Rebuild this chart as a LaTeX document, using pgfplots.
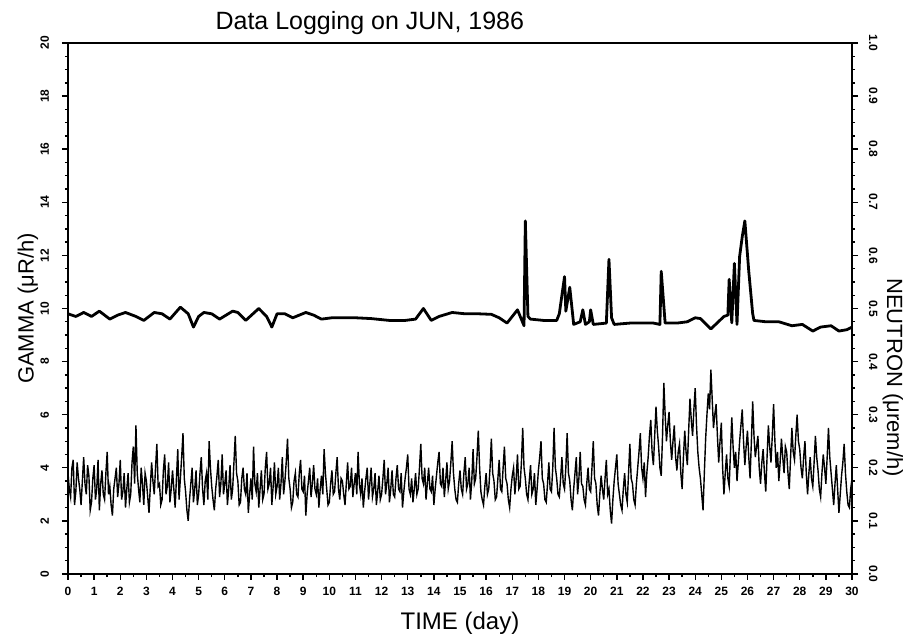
\documentclass[border=0pt]{standalone}
\usepackage{fontspec}
\setmainfont{Liberation Sans}
\usepackage{pgfplots}
\usepackage{pgfplotstable}
\pgfplotsset{compat=1.18}

% neutron dose rate, urem/h, one reading every 0.05 day
\pgfplotstableread{
t n
0.0 0.19
0.05 0.16
0.1 0.145
0.15 0.20
0.2 0.215
0.25 0.13
0.3 0.155
0.35 0.21
0.4 0.18
0.45 0.16
0.5 0.13
0.55 0.175
0.6 0.22
0.65 0.17
0.7 0.15
0.75 0.205
0.8 0.185
0.85 0.12
0.9 0.135
0.95 0.18
1.0 0.205
1.05 0.14
1.1 0.16
1.15 0.215
1.2 0.12
1.25 0.17
1.3 0.195
1.35 0.15
1.4 0.14
1.45 0.19
1.5 0.23
1.55 0.15
1.6 0.165
1.65 0.13
1.7 0.11
1.75 0.16
1.8 0.18
1.85 0.2
1.9 0.145
1.95 0.17
2.0 0.215
2.05 0.14
2.1 0.155
2.15 0.19
2.2 0.125
2.25 0.16
2.3 0.19
2.35 0.135
2.4 0.15
2.45 0.21
2.5 0.24
2.55 0.17
2.6 0.28
2.65 0.19
2.7 0.16
2.75 0.135
2.8 0.20
2.85 0.17
2.9 0.13
2.95 0.19
3.0 0.175
3.05 0.145
3.1 0.115
3.15 0.165
3.2 0.21
3.25 0.175
3.3 0.15
3.35 0.2
3.4 0.245
3.45 0.165
3.5 0.17
3.55 0.13
3.6 0.14
3.65 0.195
3.7 0.225
3.75 0.15
3.8 0.165
3.85 0.21
3.9 0.135
3.95 0.16
4.0 0.195
4.05 0.16
4.1 0.125
4.15 0.18
4.2 0.235
4.25 0.14
4.3 0.18
4.35 0.22
4.4 0.265
4.45 0.18
4.5 0.155
4.55 0.12
4.6 0.10
4.65 0.14
4.7 0.17
4.75 0.2
4.8 0.135
4.85 0.16
4.9 0.195
4.95 0.13
5.0 0.15
5.05 0.19
5.1 0.22
5.15 0.16
5.2 0.13
5.25 0.175
5.3 0.19
5.35 0.14
5.4 0.25
5.45 0.2
5.5 0.165
5.55 0.14
5.6 0.12
5.65 0.16
5.7 0.185
5.75 0.215
5.8 0.145
5.85 0.17
5.9 0.225
5.95 0.15
6.0 0.17
6.05 0.195
6.1 0.13
6.15 0.16
6.2 0.205
6.25 0.14
6.3 0.16
6.35 0.21
6.4 0.26
6.45 0.19
6.5 0.175
6.55 0.13
6.6 0.135
6.65 0.18
6.7 0.20
6.75 0.16
6.8 0.15
6.85 0.19
6.9 0.115
6.95 0.15
7.0 0.18
7.05 0.14
7.1 0.24
7.15 0.17
7.2 0.155
7.25 0.19
7.3 0.125
7.35 0.16
7.4 0.195
7.45 0.14
7.5 0.15
7.55 0.2
7.6 0.23
7.65 0.16
7.7 0.17
7.75 0.2
7.8 0.13
7.85 0.165
7.9 0.21
7.95 0.15
8.0 0.165
8.05 0.2
8.1 0.14
8.15 0.17
8.2 0.22
8.25 0.15
8.3 0.175
8.35 0.21
8.4 0.255
8.45 0.18
8.5 0.16
8.55 0.125
8.6 0.135
8.65 0.175
8.7 0.19
8.75 0.15
8.8 0.145
8.85 0.19
8.9 0.215
8.95 0.16
9.0 0.155
9.05 0.185
9.1 0.11
9.15 0.15
9.2 0.175
9.25 0.2
9.3 0.145
9.35 0.17
9.4 0.205
9.45 0.16
9.5 0.15
9.55 0.18
9.6 0.125
9.65 0.16
9.7 0.185
9.75 0.15
9.8 0.235
9.85 0.19
9.9 0.16
9.95 0.13
10.0 0.135
10.05 0.17
10.1 0.195
10.15 0.15
10.2 0.155
10.25 0.19
10.3 0.22
10.35 0.16
10.4 0.14
10.45 0.18
10.5 0.175
10.55 0.15
10.6 0.13
10.65 0.17
10.7 0.21
10.75 0.16
10.8 0.165
10.85 0.2
10.9 0.145
10.95 0.17
11.0 0.19
11.05 0.15
11.1 0.23
11.15 0.17
11.2 0.15
11.25 0.18
11.3 0.125
11.35 0.155
11.4 0.18
11.45 0.2
11.5 0.14
11.55 0.17
11.6 0.20
11.65 0.145
11.7 0.16
11.75 0.19
11.8 0.13
11.85 0.155
11.9 0.185
11.95 0.14
12.0 0.15
12.05 0.18
12.1 0.215
12.15 0.15
12.2 0.17
12.25 0.2
12.3 0.135
12.35 0.16
12.4 0.195
12.45 0.15
12.5 0.145
12.55 0.18
12.6 0.205
12.65 0.16
12.7 0.155
12.75 0.19
12.8 0.125
12.85 0.155
12.9 0.18
12.95 0.2
13.0 0.225
13.05 0.16
13.1 0.15
13.15 0.18
13.2 0.135
13.25 0.16
13.3 0.19
13.35 0.15
13.4 0.16
13.45 0.2
13.5 0.245
13.55 0.18
13.6 0.17
13.65 0.2
13.7 0.14
13.75 0.17
13.8 0.20
13.85 0.16
13.9 0.155
13.95 0.185
14.0 0.13
14.05 0.16
14.1 0.185
14.15 0.21
14.2 0.23
14.25 0.17
14.3 0.165
14.35 0.2
14.4 0.145
14.45 0.175
14.5 0.21
14.55 0.16
14.6 0.175
14.65 0.21
14.7 0.25
14.75 0.19
14.8 0.16
14.85 0.14
14.9 0.135
14.95 0.17
15.0 0.195
15.05 0.16
15.1 0.15
15.15 0.19
15.2 0.22
15.25 0.16
15.3 0.17
15.35 0.2
15.4 0.14
15.45 0.175
15.5 0.235
15.55 0.17
15.6 0.18
15.65 0.22
15.7 0.27
15.75 0.2
15.8 0.155
15.85 0.14
15.9 0.13
15.95 0.165
16.0 0.19
16.05 0.15
16.1 0.16
16.15 0.2
16.2 0.255
16.25 0.19
16.3 0.175
16.35 0.14
16.4 0.145
16.45 0.18
16.5 0.215
16.55 0.16
16.6 0.155
16.65 0.2
16.7 0.24
16.75 0.18
16.8 0.17
16.85 0.14
16.9 0.125
16.95 0.16
17.0 0.185
17.05 0.2
17.1 0.15
17.15 0.18
17.2 0.225
17.25 0.16
17.3 0.165
17.35 0.21
17.4 0.275
17.45 0.2
17.5 0.18
17.55 0.15
17.6 0.14
17.65 0.175
17.7 0.205
17.75 0.15
17.8 0.16
17.85 0.19
17.9 0.13
17.95 0.16
18.0 0.195
18.05 0.22
18.1 0.25
18.15 0.18
18.2 0.17
18.25 0.14
18.3 0.135
18.35 0.17
18.4 0.21
18.45 0.16
18.5 0.155
18.55 0.2
18.6 0.275
18.65 0.2
18.7 0.18
18.75 0.15
18.8 0.145
18.85 0.18
18.9 0.22
18.95 0.17
19.0 0.16
19.05 0.2
19.1 0.265
19.15 0.19
19.2 0.175
19.25 0.14
19.3 0.12
19.35 0.16
19.4 0.19
19.45 0.22
19.5 0.15
19.55 0.18
19.6 0.23
19.65 0.17
19.7 0.165
19.75 0.14
19.8 0.13
19.85 0.17
19.9 0.20
19.95 0.16
20.0 0.155
20.05 0.2
20.1 0.25
20.15 0.18
20.2 0.17
20.25 0.13
20.3 0.11
20.35 0.15
20.4 0.185
20.45 0.16
20.5 0.14
20.55 0.18
20.6 0.215
20.65 0.15
20.7 0.16
20.75 0.12
20.8 0.095
20.85 0.14
20.9 0.175
20.95 0.2
21.0 0.225
21.05 0.17
21.1 0.15
21.15 0.13
21.2 0.12
21.25 0.16
21.3 0.19
21.35 0.15
21.4 0.135
21.45 0.19
21.5 0.245
21.55 0.18
21.6 0.17
21.65 0.14
21.7 0.13
21.75 0.17
21.8 0.20
21.85 0.23
21.9 0.265
21.95 0.2
22.0 0.18
22.05 0.21
22.1 0.145
22.15 0.19
22.2 0.22
22.25 0.26
22.3 0.29
22.35 0.23
22.4 0.205
22.45 0.26
22.5 0.315
22.55 0.27
22.6 0.24
22.65 0.2
22.7 0.185
22.75 0.26
22.8 0.36
22.85 0.3
22.9 0.25
22.95 0.28
23.0 0.305
23.05 0.25
23.1 0.215
23.15 0.25
23.2 0.28
23.25 0.22
23.3 0.195
23.35 0.23
23.4 0.245
23.45 0.19
23.5 0.16
23.55 0.22
23.6 0.27
23.65 0.23
23.7 0.205
23.75 0.27
23.8 0.33
23.85 0.29
23.9 0.26
23.95 0.31
24.0 0.35
24.05 0.28
24.1 0.23
24.15 0.2
24.2 0.18
24.25 0.15
24.3 0.12
24.35 0.19
24.4 0.255
24.45 0.3
24.5 0.34
24.55 0.31
24.6 0.385
24.65 0.33
24.7 0.275
24.75 0.3
24.8 0.32
24.85 0.26
24.9 0.21
24.95 0.25
25.0 0.285
25.05 0.2
25.1 0.15
25.15 0.19
25.2 0.225
25.25 0.18
25.3 0.165
25.35 0.23
25.4 0.295
25.45 0.24
25.5 0.20
25.55 0.23
25.6 0.175
25.65 0.21
25.7 0.25
25.75 0.28
25.8 0.31
25.85 0.25
25.9 0.205
25.95 0.24
26.0 0.27
26.05 0.22
26.1 0.18
26.15 0.25
26.2 0.325
26.25 0.26
26.3 0.22
26.35 0.24
26.4 0.26
26.45 0.2
26.5 0.17
26.55 0.21
26.6 0.235
26.65 0.19
26.7 0.155
26.75 0.22
26.8 0.28
26.85 0.24
26.9 0.21
26.95 0.26
27.0 0.32
27.05 0.25
27.1 0.20
27.15 0.23
27.2 0.175
27.25 0.21
27.3 0.255
27.35 0.22
27.4 0.19
27.45 0.24
27.5 0.23
27.55 0.19
27.6 0.16
27.65 0.22
27.7 0.275
27.75 0.23
27.8 0.215
27.85 0.26
27.9 0.30
27.95 0.25
28.0 0.235
28.05 0.2
28.1 0.18
28.15 0.22
28.2 0.25
28.25 0.19
28.3 0.15
28.35 0.19
28.4 0.22
28.45 0.18
28.5 0.165
28.55 0.21
28.6 0.26
28.65 0.22
28.7 0.195
28.75 0.16
28.8 0.145
28.85 0.19
28.9 0.225
28.95 0.2
29.0 0.17
29.05 0.22
29.1 0.275
29.15 0.22
29.2 0.19
29.25 0.16
29.3 0.13
29.35 0.17
29.4 0.205
29.45 0.16
29.5 0.115
29.55 0.15
29.6 0.185
29.65 0.21
29.7 0.245
29.75 0.19
29.8 0.155
29.85 0.13
29.9 0.125
29.95 0.16
30.0 0.18
}\neutron

\pgfplotsset{
  logplot/.style={
    width=392pt, height=265.5pt, scale only axis,
    xmin=0, xmax=30,
    tick align=outside,
    major tick length=3pt, minor tick length=1.6pt,
    axis line style={line width=0.9pt},
    every tick/.style={black, line width=0.7pt},
    /pgf/number format/assume math mode=true,
    ticklabel style={font=\fontsize{6}{7}\selectfont\bfseries},
  },
}

\begin{document}
\begin{tikzpicture}
\begin{axis}[
  logplot,
  name=ax,
  ymin=0, ymax=20,
  xtick distance=1, ytick distance=2,
  minor x tick num=1, minor y tick num=3,
  xtick pos=bottom, ytick pos=left,
  yticklabel style={rotate=90, anchor=south},
  yticklabel shift=3pt,
  title={Data Logging on JUN, 1986},
  every axis title/.style={at={(0.385,1)}, anchor=base, yshift=6.5pt, font=\fontsize{12.5}{14}\selectfont},
  xlabel={TIME (day)},
  every axis x label/.style={at={(0.5,0)}, anchor=base, yshift=-28pt, font=\fontsize{12}{14}\selectfont},
  ylabel={GAMMA (μR/h)},
  every axis y label/.style={at={(-0.051,0.5)}, anchor=center, rotate=90, font=\fontsize{11}{13}\selectfont},
]
% gamma dose rate, uR/h
\addplot[black, line width=1.4pt, line join=round] coordinates {
(0,9.8) (0.3,9.7) (0.6,9.85) (0.9,9.7) (1.2,9.9) (1.6,9.6) (1.9,9.75)
(2.2,9.85) (2.6,9.7) (2.9,9.55) (3.3,9.85) (3.6,9.8) (3.9,9.6) (4.3,10.05)
(4.6,9.8) (4.8,9.3) (5.0,9.7) (5.2,9.85) (5.5,9.8) (5.8,9.6) (6.3,9.9)
(6.5,9.85) (6.8,9.55) (7.3,10.0) (7.6,9.7) (7.8,9.3) (8.0,9.8) (8.3,9.8)
(8.6,9.65) (9.1,9.85) (9.4,9.75) (9.7,9.6) (10.1,9.65) (10.5,9.65) (11.0,9.65)
(11.6,9.62) (12.3,9.55) (12.9,9.55) (13.3,9.6) (13.6,10.0) (13.9,9.55) (14.2,9.7)
(14.7,9.85) (15.2,9.8) (15.7,9.8) (16.2,9.78) (16.5,9.65) (16.8,9.45) (17.2,9.95)
(17.45,9.35) (17.5,13.3) (17.6,9.7) (17.7,9.6) (18.2,9.55) (18.7,9.55) (18.8,9.8)
(19.0,11.2) (19.05,9.9) (19.2,10.8) (19.35,9.4) (19.6,9.5) (19.7,9.95) (19.8,9.4)
(19.95,9.5) (20.0,9.95) (20.1,9.4) (20.6,9.45) (20.7,11.85) (20.8,9.65) (20.9,9.4)
(21.5,9.45) (22.0,9.45) (22.4,9.45) (22.65,9.4) (22.7,11.4) (22.85,9.45) (23.3,9.45)
(23.7,9.5) (24.0,9.65) (24.2,9.62) (24.6,9.23) (25.1,9.7) (25.25,9.75) (25.3,11.1)
(25.4,9.46) (25.5,11.7) (25.6,9.4) (25.7,11.96) (25.8,12.7) (25.9,13.3) (26.05,11.4)
(26.2,9.8) (26.25,9.55) (26.7,9.5) (27.2,9.5) (27.7,9.35) (28.1,9.4) (28.5,9.15)
(28.8,9.3) (29.2,9.35) (29.5,9.15) (29.8,9.2) (30,9.3)
};
\end{axis}
\begin{axis}[
  logplot,
  ymin=0, ymax=1,
  axis x line=none, axis y line*=right,
  ytick distance=0.1, minor y tick num=3,
  yticklabel style={rotate=-90, anchor=south,
    /pgf/number format/.cd, fixed, fixed zerofill, precision=1},
  yticklabel shift=2pt,
  ylabel={NEUTRON (μrem/h)},
  every axis y label/.style={at={(1.052,0.37)}, anchor=center, rotate=-90, font=\fontsize{11}{13}\selectfont},
]
\addplot[black, line width=0.7pt] table[x=t, y=n] {\neutron};
\end{axis}
\pgfresetboundingbox
\path[use as bounding box] ([xshift=-34pt, yshift=-30.5pt]ax.south west)
  rectangle ([xshift=29.5pt, yshift=21.5pt]ax.north east);
\end{tikzpicture}
\end{document}
